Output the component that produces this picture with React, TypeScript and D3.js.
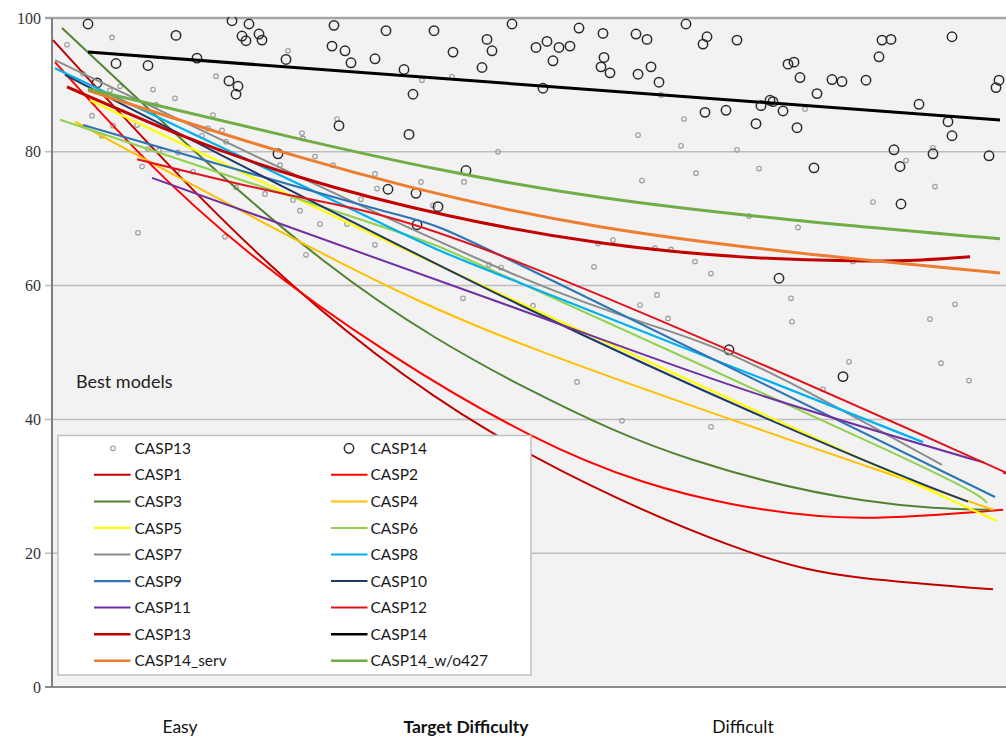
import React from "react";
import * as d3 from "d3";

// ---- data (x = target rank, easy -> difficult; y = score) ----
const yTicks = [0, 20, 40, 60, 80, 100];
const bottomLabels = ["Easy", "Target Difficulty", "Difficult"];
const annotation = "Best models";

const casp13Points: [number, number][] = [
  [1.5, 96.0], [6.0, 97.1], [3.1, 91.7], [5.8, 89.2], [6.8, 89.8], [10.1, 89.3], [12.3, 88.0],
  [10.4, 87.0], [4.0, 85.4], [6.1, 83.9], [5.0, 82.4], [8.5, 84.0], [16.1, 85.5], [15.6, 83.5],
  [17.0, 83.2], [15.0, 82.4], [17.4, 81.5], [25.0, 82.8], [25.1, 82.0], [28.5, 84.9], [9.6, 80.4],
  [10.7, 80.2], [12.6, 79.9], [9.0, 77.8], [12.5, 77.2], [14.1, 77.0], [22.8, 78.0], [26.3, 79.3],
  [28.1, 78.0], [32.3, 76.7], [32.5, 74.5], [30.9, 72.9], [18.4, 74.7], [21.3, 73.7], [24.1, 72.8],
  [24.8, 71.2], [26.8, 69.2], [29.5, 69.2], [32.3, 66.1], [8.6, 67.9], [17.3, 67.3], [25.4, 64.6],
  [23.6, 95.1], [16.4, 91.3], [37.0, 90.7], [40.0, 91.2], [60.9, 88.5], [63.2, 84.9], [58.6, 82.5],
  [62.9, 80.9], [44.6, 80.0], [36.9, 75.5], [41.2, 75.5], [59.0, 75.7], [64.4, 76.8], [38.1, 72.0],
  [54.6, 66.3], [56.1, 66.8], [60.3, 65.6], [61.9, 65.4], [43.7, 63.1], [44.9, 62.7], [41.1, 58.1],
  [48.1, 57.0], [54.2, 62.8], [64.3, 63.6], [65.9, 61.8], [80.1, 63.6], [60.5, 58.6], [58.8, 57.1],
  [61.6, 55.1], [73.9, 58.1], [74.0, 54.6], [87.8, 55.0], [90.3, 57.2], [79.7, 48.6], [88.9, 48.4],
  [91.7, 45.8], [77.1, 44.5], [52.5, 45.6], [57.0, 39.8], [65.9, 38.9], [75.3, 86.4], [68.5, 80.3],
  [70.7, 77.5], [88.1, 80.6], [85.4, 78.7], [88.3, 74.8], [82.1, 72.5], [69.7, 70.4], [74.6, 68.7],
];

const casp14Points: [number, number][] = [
  [3.6, 99.1], [18.0, 99.6], [19.7, 99.1], [12.4, 97.4], [19.0, 97.3], [19.4, 96.6], [20.7, 97.6],
  [21.0, 96.7], [28.2, 98.9], [28.0, 95.8], [29.3, 95.1], [29.9, 93.3], [32.3, 93.9], [6.4, 93.2],
  [9.6, 92.9], [14.5, 94.0], [23.4, 93.8], [17.7, 90.6], [18.6, 89.8], [18.4, 88.6], [4.5, 90.3],
  [28.7, 83.9], [22.6, 79.7], [33.4, 98.1], [38.2, 98.1], [46.0, 99.1], [52.7, 98.5], [55.1, 97.7],
  [58.4, 97.6], [59.5, 96.8], [63.4, 99.1], [43.5, 96.8], [44.0, 95.1], [40.1, 94.9], [35.2, 92.3],
  [43.0, 92.6], [48.4, 95.6], [49.5, 96.5], [50.7, 95.6], [51.8, 95.8], [50.1, 93.6], [55.2, 94.1],
  [54.9, 92.7], [55.8, 91.8], [58.6, 91.6], [59.9, 92.7], [60.7, 90.4], [49.1, 89.5], [36.1, 88.6],
  [35.7, 82.6], [41.4, 77.2], [33.6, 74.4], [36.4, 73.8], [38.6, 71.8], [36.5, 69.1], [65.5, 97.2],
  [65.1, 96.1], [68.5, 96.7], [83.0, 96.7], [83.9, 96.8], [90.0, 97.2], [82.7, 94.2], [73.6, 93.1],
  [74.2, 93.4], [74.8, 91.1], [78.0, 90.8], [79.0, 90.5], [81.4, 90.7], [76.5, 88.7], [94.7, 90.7],
  [94.4, 89.6], [71.8, 87.7], [72.1, 87.5], [70.9, 86.9], [73.1, 86.1], [65.3, 85.9], [67.4, 86.2],
  [70.4, 84.2], [74.5, 83.6], [86.7, 87.1], [89.6, 84.5], [90.0, 82.4], [84.2, 80.3], [88.1, 79.7],
  [93.7, 79.4], [76.2, 77.6], [84.8, 77.8], [84.9, 72.2], [72.7, 61.1], [67.7, 50.4], [79.1, 46.4],
];

// trend lines
const casp1: [number, number][] = [[0.1, 96.7], [20.8, 64.5], [43.8, 38.2], [67.8, 21.2], [81.1, 16.3], [94.1, 14.6]];
const casp2: [number, number][] = [[0.3, 93.4], [19.8, 64.8], [47.8, 37.7], [67.8, 27.4], [81.1, 25.3], [95.1, 26.5]];
const casp3: [number, number][] = [[1.0, 98.5], [27.1, 63.8], [47.8, 44.4], [64.0, 34.0], [81.1, 27.9], [94.1, 26.5]];
const casp4: [number, number][] = [[2.3, 84.5], [26.8, 65.0], [47.8, 50.8], [76.8, 35.4], [94.1, 26.5]];
const casp5: [number, number][] = [[3.8, 87.7], [24.8, 72.8], [46.8, 57.4], [94.5, 24.8]];
const casp6: [number, number][] = [[0.8, 84.8], [32.8, 68.9], [46.8, 60.4], [83.5, 35.4], [93.5, 27.5]];
const casp7: [number, number][] = [[0.3, 93.7], [46.8, 61.3], [66.8, 50.4], [89.0, 33.2]];
const casp8: [number, number][] = [[0.3, 92.5], [32.8, 69.4], [46.8, 60.4], [87.1, 36.6]];
const casp9: [number, number][] = [[3.1, 84.0], [32.8, 71.3], [46.8, 63.1], [94.3, 28.4]];
const casp10: [number, number][] = [[1.3, 91.5], [46.8, 57.1], [78.8, 35.4], [91.6, 27.7]];
const casp11: [number, number][] = [[10.0, 76.1], [46.8, 56.4], [70.1, 44.0], [93.3, 33.5]];
const casp12: [number, number][] = [[8.5, 78.9], [24.8, 73.2], [46.8, 63.4], [90.1, 35.6], [95.1, 32.1]];
const casp13: [number, number][] = [[1.5, 89.7], [24.8, 76.2], [54.8, 66.4], [79.8, 63.7], [91.8, 64.3]];
const casp14: [number, number][] = [[3.6, 94.9], [94.8, 84.75]];
const casp14Serv: [number, number][] = [[3.6, 89.2], [24.8, 79.2], [54.8, 68.8], [94.8, 61.9]];
const casp14Wo427: [number, number][] = [[3.6, 89.4], [24.8, 81.9], [54.8, 73.2], [94.8, 67.0]];

const seriesNames = [
  "CASP1", "CASP2", "CASP3", "CASP4", "CASP5", "CASP6", "CASP7", "CASP8",
  "CASP9", "CASP10", "CASP11", "CASP12", "CASP13", "CASP14", "CASP14_serv", "CASP14_w/o427",
];
const seriesData = [
  casp1, casp2, casp3, casp4, casp5, casp6, casp7, casp8,
  casp9, casp10, casp11, casp12, casp13, casp14, casp14Serv, casp14Wo427,
];

// ---- styles ----
const seriesColors = [
  "#c00000", "#ff0000", "#548235", "#ffc000", "#ffff00", "#92d050", "#8c8c8c", "#00b0f0",
  "#2e75b6", "#203864", "#7030a0", "#e0141c", "#c00000", "#000000", "#ed7d31", "#70ad47",
];
const seriesWidths = [2, 2, 2, 2, 2.2, 2, 2, 2.2, 2.2, 2, 2, 2, 3, 3, 3, 3];

export default function App() {
  const left = 52, right = 1010, top = 18, bottom = 687;
  const x = d3.scaleLinear().domain([0, 95.8]).range([left, right]);
  const y = d3.scaleLinear().domain([0, 100]).range([bottom, top]);
  const line = d3
    .line<[number, number]>()
    .x((d) => x(d[0]))
    .y((d) => y(d[1]))
    .curve(d3.curveNatural);

  const font = "Lato, 'Open Sans', sans-serif";
  const rowY = (i: number) => 448.3 + i * 26.55;
  const colLine = [94, 331];
  const colText = [134.5, 370.5];

  const legendItems: { name: string; kind: string; idx: number; row: number; col: number }[] = [
    { name: "CASP13", kind: "small", idx: -1, row: 0, col: 0 },
    { name: "CASP14", kind: "big", idx: -1, row: 0, col: 1 },
  ];
  seriesNames.forEach((n, i) => {
    legendItems.push({ name: n, kind: "line", idx: i, row: 1 + Math.floor(i / 2), col: i % 2 });
  });

  return (
    <div style={{ position: "absolute", left: 0, top: 0 }}>
      <svg width={1006} height={737} style={{ display: "block", background: "#ffffff" }}>
        <defs>
          <clipPath id="plotClip">
            <rect x={left} y={top - 1} width={right - left} height={bottom - top + 1} />
          </clipPath>
        </defs>
        <rect x={left} y={top} width={right - left} height={bottom - top} fill="#f2f2f2" />
        {yTicks.filter((t) => t > 0 && t < 100).map((t) => (
          <line key={"g" + t} x1={left - 7} x2={right} y1={y(t)} y2={y(t)} stroke="#bdbdbd" strokeWidth={1.5} />
        ))}
        <line x1={left - 7} x2={right} y1={y(100)} y2={y(100)} stroke="#a6a6a6" strokeWidth={2.5} />
        <line x1={left - 7} x2={right} y1={y(0)} y2={y(0)} stroke="#8c8c8c" strokeWidth={2} />
        <line x1={left} x2={left} y1={top} y2={bottom} stroke="#7f7f7f" strokeWidth={2} />
        {yTicks.map((t) => (
          <text key={"t" + t} x={41} y={y(t)} dy="0.35em" textAnchor="end"
            fontFamily="'Liberation Serif', 'Times New Roman', serif" fontSize={16} fill="#333">
            {t}
          </text>
        ))}
        <g clipPath="url(#plotClip)">
          {casp13Points.map((d, i) => (
            <circle key={"s13" + i} cx={x(d[0])} cy={y(d[1])} r={2.3} fill="none" stroke="#9a9a9a" strokeWidth={1.1} />
          ))}
          {casp14Points.map((d, i) => (
            <circle key={"s14" + i} cx={x(d[0])} cy={y(d[1])} r={4.7} fill="none" stroke="#2b2b2b" strokeWidth={1.5} />
          ))}
          {seriesData.map((s, i) => (
            <path key={"l" + i} d={line(s) || ""} fill="none" stroke={seriesColors[i]} strokeWidth={seriesWidths[i]} />
          ))}
        </g>
        <text x={76} y={388} fontFamily={font} fontSize={18} fill="#222">{annotation}</text>
        <rect x={58} y={435.5} width={473} height={239.5} fill="#ffffff" stroke="#bfbfbf" strokeWidth={1.5} />
        {legendItems.map((it, k) => {
          const cy = rowY(it.row);
          const lx = colLine[it.col];
          return (
            <g key={"lg" + k}>
              {it.kind === "small" && (
                <circle cx={lx + 19} cy={cy} r={2.3} fill="none" stroke="#9a9a9a" strokeWidth={1.1} />
              )}
              {it.kind === "big" && (
                <circle cx={lx + 18} cy={cy} r={4.7} fill="none" stroke="#2b2b2b" strokeWidth={1.5} />
              )}
              {it.kind === "line" && (
                <line x1={lx} x2={lx + 36.5} y1={cy} y2={cy} stroke={seriesColors[it.idx]}
                  strokeWidth={Math.min(seriesWidths[it.idx], 2.5)} />
              )}
              <text x={colText[it.col]} y={cy} dy="0.36em" fontFamily={font} fontSize={15.5} fill="#1a1a1a">
                {it.name}
              </text>
            </g>
          );
        })}
        <text x={180} y={733} textAnchor="middle" fontFamily={font} fontSize={17.5} fill="#111">{bottomLabels[0]}</text>
        <text x={466} y={733} textAnchor="middle" fontFamily={font} fontSize={17.5} fontWeight="bold" fill="#111">{bottomLabels[1]}</text>
        <text x={743} y={733} textAnchor="middle" fontFamily={font} fontSize={17.5} fill="#111">{bottomLabels[2]}</text>
      </svg>
    </div>
  );
}
